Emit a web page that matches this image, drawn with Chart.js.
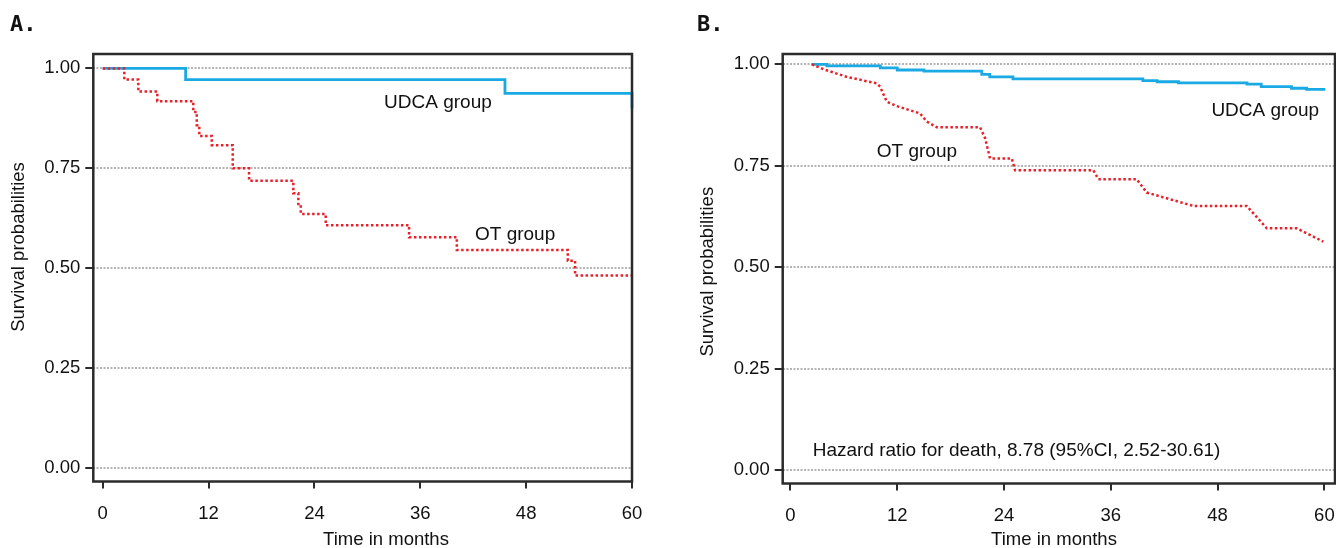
<!DOCTYPE html>
<html>
<head>
<meta charset="utf-8">
<script src="https://cdn.jsdelivr.net/npm/chart.js@4.4.1/dist/chart.umd.min.js"></script>
<style>
  body { margin: 0; background: #fff; }
  #wrap { position: relative; width: 1336px; height: 548px; }
  .panel { position: absolute; top: 0; width: 668px; height: 548px; }
</style>
</head>
<body>
<div id="wrap">
  <div class="panel" style="left:0"><canvas id="chartA"></canvas></div>
  <div class="panel" style="left:668px"><canvas id="chartB"></canvas></div>
</div>
<script>
// Panel A – Kaplan-Meier steps (month of drop, survival after the drop)
const udcaTimesA = [0, 9.4, 45.6, 60, 60];
const udcaSurvA  = [1.0, 0.972, 0.9375, 0.9375, 0.90];
const otTimesA = [0, 2.45, 4.04, 6.19, 10.27, 10.66, 10.95, 12.36, 14.74, 16.59, 21.61, 22.18, 22.45, 25.28, 34.73, 40.14, 52.72, 53.55, 60];
const otSurvA  = [1.0, 0.972, 0.942, 0.918, 0.891, 0.858, 0.831, 0.808, 0.75, 0.719, 0.688, 0.661, 0.636, 0.608, 0.578, 0.546, 0.519, 0.482, 0.482];

// Panel B – UDCA steps, OT curve
const udcaTimesB = [2.4, 4.1, 10.1, 12.0, 15.0, 21.5, 22.4, 25.0, 39.6, 41.2, 43.6, 51.3, 52.9, 56.3, 58.0, 60.1];
const udcaSurvB  = [1.0, 0.996, 0.991, 0.986, 0.983, 0.975, 0.969, 0.964, 0.960, 0.957, 0.954, 0.951, 0.945, 0.941, 0.938, 0.938];
const otTimesB = [2.4, 3.7, 6.33, 9.7, 10.07, 10.82, 11.94, 14.56, 15.31, 16.44, 21.3, 21.87, 22.43, 24.87, 25.24, 34.03, 34.6, 38.9, 40.03, 45.27, 51.27, 53.52, 56.89, 59.88];
const otSurvB  = [1.0, 0.988, 0.969, 0.953, 0.945, 0.908, 0.897, 0.879, 0.859, 0.845, 0.845, 0.818, 0.768, 0.768, 0.739, 0.739, 0.717, 0.717, 0.684, 0.651, 0.651, 0.596, 0.596, 0.563];

const xTicks = [0, 12, 24, 36, 48, 60];
const yTicks = [0, 0.25, 0.5, 0.75, 1];

const BLUE = "#1aa9e3";
const RED = "#e8202a";
const INK = "#111";
const FONT = "'Liberation Sans', Arial, sans-serif";

Chart.defaults.font.family = FONT;
Chart.defaults.font.size = 18.5;
Chart.defaults.color = INK;

function toPoints(times, surv) {
    return times.map((t, i) => ({ x: t, y: surv[i] }));
}

// frame, annotations, axis titles and panel letter
const panelDecor = {
    id: "panelDecor",
    afterDraw(chart, args, opts) {
        const { ctx, chartArea: a, scales: { x, y } } = chart;
        ctx.save();
        ctx.strokeStyle = "#2b2b2b";
        ctx.lineWidth = 2.5;
        ctx.strokeRect(a.left, a.top, a.right - a.left, a.bottom - a.top);

        ctx.fillStyle = INK;
        ctx.font = "19px " + FONT;
        ctx.textAlign = "left";
        ctx.textBaseline = "alphabetic";
        opts.notes.forEach(n => {
            ctx.fillText(n.text, x.getPixelForValue(n.x), y.getPixelForValue(n.y));
        });

        ctx.font = "bold 22px 'DejaVu Sans Mono', monospace";
        ctx.fillText(opts.letter, opts.letterX, 31);

        ctx.font = "18.5px " + FONT;
        ctx.textAlign = "center";
        ctx.textBaseline = "middle";
        ctx.fillText("Time in months", opts.xTitleX, 540);
        ctx.translate(opts.yTitleX, opts.yTitleY);
        ctx.rotate(-Math.PI / 2);
        ctx.fillText("Survival probabilities", 0, 0);
        ctx.restore();
    }
};

function createKmChart(canvasId, p) {
    const ctx = document.getElementById(canvasId).getContext("2d");
    new Chart(ctx, {
        type: "line",
        data: {
            datasets: [
                {
                    label: "OT group",
                    data: toPoints(p.otTimes, p.otSurv),
                    borderColor: RED,
                    borderWidth: 2.5,
                    borderDash: [2.5, 2.5],
                    stepped: p.otStepped,
                    pointRadius: 0,
                    fill: false,
                    clip: 4,
                },
                {
                    label: "UDCA group",
                    data: toPoints(p.udcaTimes, p.udcaSurv),
                    borderColor: BLUE,
                    borderWidth: 2.8,
                    stepped: true,
                    pointRadius: 0,
                    fill: false,
                    clip: 4,
                },
            ],
        },
        options: {
            responsive: true,
            maintainAspectRatio: false,
            animation: false,
            layout: { padding: { left: 0, top: p.top, right: p.right, bottom: 0 } },
            scales: {
                x: {
                    type: "linear",
                    min: p.xMin,
                    max: p.xMax,
                    afterBuildTicks: s => { s.ticks = xTicks.map(v => ({ value: v })); },
                    afterFit: s => {
                        s.height = p.xAxisHeight;
                        s.paddingLeft = 0;
                        s.paddingRight = 0;
                    },
                    ticks: { padding: 14, maxRotation: 0, color: INK },
                    grid: {
                        drawOnChartArea: false,
                        tickLength: 7,
                        tickColor: "#2b2b2b",
                        lineWidth: 2,
                    },
                    border: { display: false },
                },
                y: {
                    min: p.yMin,
                    max: p.yMax,
                    afterBuildTicks: s => { s.ticks = yTicks.map(v => ({ value: v })); },
                    afterFit: s => {
                        s.width = p.yAxisWidth;
                        s.paddingTop = 0;
                        s.paddingBottom = 0;
                    },
                    ticks: { padding: 5, color: INK, callback: v => v.toFixed(2) },
                    grid: {
                        color: "#b4b4b4",
                        lineWidth: 2,
                        tickLength: 8,
                        tickColor: "#2b2b2b",
                        tickWidth: 2,
                        tickBorderDash: [],
                    },
                    border: { display: false, dash: [2, 1.5] },
                },
            },
            plugins: {
                legend: { display: false },
                tooltip: { enabled: false },
                panelDecor: p.decor,
            },
        },
        plugins: [panelDecor],
    });
}

createKmChart("chartA", {
    udcaTimes: udcaTimesA, udcaSurv: udcaSurvA,
    otTimes: otTimesA, otSurv: otSurvA, otStepped: true,
    xMin: -1.066, xMax: 60, yMin: -0.033, yMax: 1.036,
    top: 54, right: 36, yAxisWidth: 93.3, xAxisHeight: 66.5,
    decor: {
        letter: "A.", letterX: 10,
        xTitleX: 386, yTitleX: 19, yTitleY: 247,
        notes: [
            { text: "UDCA group", x: 31.9, y: 0.90 },
            { text: "OT group", x: 42.2, y: 0.571 },
        ],
    },
});

createKmChart("chartB", {
    udcaTimes: udcaTimesB, udcaSurv: udcaSurvB,
    otTimes: otTimesB, otSurv: otSurvB, otStepped: false,
    xMin: -0.87, xMax: 61.19, yMin: -0.033, yMax: 1.0254,
    top: 54, right: 1, yAxisWidth: 114.7, xAxisHeight: 64.5,
    decor: {
        letter: "B.", letterX: 29,
        xTitleX: 386, yTitleX: 39.5, yTitleY: 271.7,
        notes: [
            { text: "UDCA group", x: 47.3, y: 0.873 },
            { text: "OT group", x: 9.7, y: 0.772 },
            { text: "Hazard ratio for death, 8.78 (95%CI, 2.52-30.61)", x: 2.5, y: 0.0345 },
        ],
    },
});
</script>
</body>
</html>
